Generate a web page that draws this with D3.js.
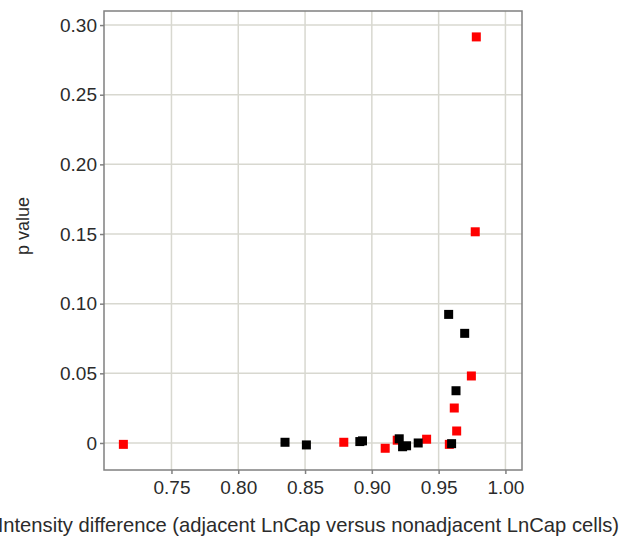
<!DOCTYPE html>
<html>
<head>
<meta charset="utf-8">
<script src="https://cdn.jsdelivr.net/npm/d3@7"></script>
<style>
  body { margin: 0; background: #fff; }
  text { font-family: "Liberation Sans", Arial, sans-serif; fill: #2b2b2b; }
</style>
</head>
<body>
<svg id="chart" width="623" height="541"></svg>
<script>
// intensity difference vs p value, two groups
var redX = [0.714, 0.879, 0.910, 0.919, 0.941, 0.958, 0.9617, 0.9635, 0.9745, 0.9774, 0.9782];
var redY = [-0.001, 0.0005, -0.0038, 0.002, 0.0027, -0.001, 0.0251, 0.0086, 0.0481, 0.1516, 0.2915];
var blackX = [0.835, 0.851, 0.891, 0.893, 0.9205, 0.923, 0.926, 0.9347, 0.9597, 0.9575, 0.9695, 0.963];
var blackY = [0.0005, -0.0014, 0.001, 0.0015, 0.003, -0.0027, -0.002, 0, -0.0005, 0.0923, 0.0787, 0.0375];

var xTicks = [0.75, 0.80, 0.85, 0.90, 0.95, 1.00];
var yTicks = [0, 0.05, 0.10, 0.15, 0.20, 0.25, 0.30];

var margin = { top: 11, right: 101, bottom: 71, left: 104 },
    width = 623 - margin.left - margin.right,
    height = 541 - margin.top - margin.bottom;

var xScale = d3.scaleLinear().domain([0.6995, 1.0124]).range([0, width]),
    yScale = d3.scaleLinear().domain([-0.0194, 0.3101]).range([height, 0]);

var svg = d3.select('#chart')
  .append('g')
    .attr('transform', 'translate(' + margin.left + ',' + margin.top + ')');

// grid
svg.append('g').selectAll('line')
    .data(xTicks)
  .enter().append('line')
    .attr('x1', function(d) { return xScale(d); })
    .attr('x2', function(d) { return xScale(d); })
    .attr('y1', 0).attr('y2', height)
    .attr('stroke', '#d8d8d0').attr('stroke-width', 1.5);

svg.append('g').selectAll('line')
    .data(yTicks)
  .enter().append('line')
    .attr('y1', function(d) { return yScale(d); })
    .attr('y2', function(d) { return yScale(d); })
    .attr('x1', 0).attr('x2', width)
    .attr('stroke', '#d8d8d0').attr('stroke-width', 1.5);

// axes
var xAxis = d3.axisBottom(xScale).tickValues(xTicks).tickSize(4).tickPadding(7)
    .tickFormat(d3.format('.2f'));
var yAxis = d3.axisLeft(yScale).tickValues(yTicks).tickSize(4).tickPadding(3)
    .tickFormat(function(d) { return d === 0 ? '0' : d3.format('.2f')(d); });

function styleAxis(g) {
  g.select('.domain').remove();
  g.selectAll('line').attr('stroke', '#808080').attr('stroke-width', 1.5);
  g.selectAll('text').attr('font-size', 19).attr('fill', '#2b2b2b')
    .attr('font-family', '"Liberation Sans", Arial, sans-serif');
}

svg.append('g')
    .attr('transform', 'translate(0,' + height + ')')
    .call(xAxis)
    .call(styleAxis);

svg.append('g')
    .call(yAxis)
    .call(styleAxis);

// frame
svg.append('rect')
    .attr('width', width).attr('height', height)
    .attr('fill', 'none').attr('stroke', '#808080').attr('stroke-width', 1.5);

// points
var size = 9;
var blackData = blackX.map(function(x, i) { return [x, blackY[i]]; });
var redData = redX.map(function(x, i) { return [x, redY[i]]; });

svg.append('g').selectAll('rect')
    .data(redData)
  .enter().append('rect')
    .attr('x', function(d) { return xScale(d[0]) - size / 2; })
    .attr('y', function(d) { return yScale(d[1]) - size / 2; })
    .attr('width', size).attr('height', size)
    .attr('fill', '#ff0000');

svg.append('g').selectAll('rect')
    .data(blackData)
  .enter().append('rect')
    .attr('x', function(d) { return xScale(d[0]) - size / 2; })
    .attr('y', function(d) { return yScale(d[1]) - size / 2; })
    .attr('width', size).attr('height', size)
    .attr('fill', '#000');

// axis titles
d3.select('#chart').append('text')
    .attr('x', 619).attr('y', 532)
    .attr('text-anchor', 'end')
    .attr('font-size', 20.2)
    .text('Intensity difference (adjacent LnCap versus nonadjacent LnCap cells)');

d3.select('#chart').append('text')
    .attr('transform', 'translate(29,226) rotate(-90)')
    .attr('text-anchor', 'middle')
    .attr('font-size', 18)
    .text('p value');
</script>
</body>
</html>
